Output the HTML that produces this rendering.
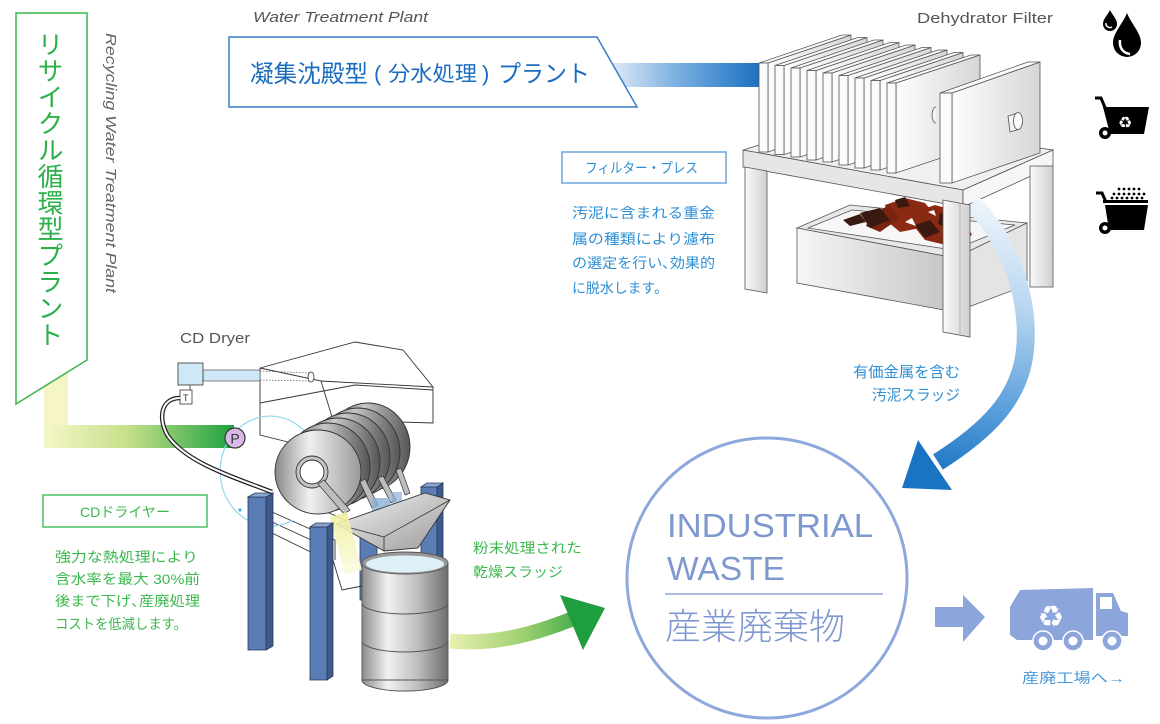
<!DOCTYPE html>
<html><head><meta charset="utf-8"><style>
html,body{margin:0;padding:0;background:#fff;}
body{width:1160px;height:724px;overflow:hidden;position:relative;font-family:"Liberation Sans","Noto Sans CJK JP",sans-serif;}
svg{position:absolute;left:0;top:0;}
.vt{position:absolute;left:36px;top:31px;writing-mode:vertical-rl;text-orientation:upright;font-size:26px;color:#2bb04a;letter-spacing:0.4px;line-height:28px;font-family:"Noto Sans CJK JP",sans-serif;}
</style></head><body>
<svg width="1160" height="724" viewBox="0 0 1160 724" font-family="Liberation Sans, Noto Sans CJK JP, sans-serif">
<defs>
<linearGradient id="gPipeH" x1="44" y1="0" x2="232" y2="0" gradientUnits="userSpaceOnUse"><stop offset="0" stop-color="#f6f6c8"/><stop offset="0.45" stop-color="#c5e08a"/><stop offset="1" stop-color="#1fa33f"/></linearGradient>
<linearGradient id="gBlueBar" x1="613" y1="0" x2="760" y2="0" gradientUnits="userSpaceOnUse"><stop offset="0" stop-color="#dbe9f6"/><stop offset="0.45" stop-color="#78aee0"/><stop offset="1" stop-color="#1a70c0"/></linearGradient>
<linearGradient id="gBlueArrow" x1="990" y1="200" x2="930" y2="475" gradientUnits="userSpaceOnUse"><stop offset="0" stop-color="#f0f6fc"/><stop offset="0.35" stop-color="#b8d6f0"/><stop offset="0.7" stop-color="#5ea2dc"/><stop offset="1" stop-color="#1a74c4"/></linearGradient>
<linearGradient id="gGreenArrow" x1="450" y1="0" x2="600" y2="0" gradientUnits="userSpaceOnUse"><stop offset="0" stop-color="#e9f0b0"/><stop offset="0.5" stop-color="#9ccf6e"/><stop offset="1" stop-color="#1e9e3e"/></linearGradient>
<linearGradient id="gPlate" x1="0" y1="0" x2="1" y2="0"><stop offset="0" stop-color="#fdfdfd"/><stop offset="1" stop-color="#d6d6d6"/></linearGradient>
<linearGradient id="gLeg" x1="0" y1="0" x2="1" y2="0"><stop offset="0" stop-color="#fafafa"/><stop offset="1" stop-color="#cfcfcf"/></linearGradient>
<linearGradient id="gBox" x1="0" y1="0" x2="1" y2="0"><stop offset="0" stop-color="#f6f6f6"/><stop offset="1" stop-color="#c4c4c4"/></linearGradient>
<linearGradient id="gDisc" x1="0" y1="0" x2="1" y2="0"><stop offset="0" stop-color="#8a8a8a"/><stop offset="0.4" stop-color="#f0f0f0"/><stop offset="1" stop-color="#9a9a9a"/></linearGradient>
<linearGradient id="gDiscB" x1="0" y1="0" x2="1" y2="0"><stop offset="0" stop-color="#444"/><stop offset="0.45" stop-color="#c8c8c8"/><stop offset="1" stop-color="#555"/></linearGradient>
<linearGradient id="gDrum" x1="0" y1="0" x2="1" y2="0"><stop offset="0" stop-color="#8c8c8c"/><stop offset="0.3" stop-color="#f2f2f2"/><stop offset="0.65" stop-color="#bdbdbd"/><stop offset="1" stop-color="#6e6e6e"/></linearGradient>
<linearGradient id="gTrough" x1="0" y1="0" x2="1" y2="1"><stop offset="0" stop-color="#f4f4f4"/><stop offset="1" stop-color="#9a9a9a"/></linearGradient>
<linearGradient id="gBeam" x1="0" y1="0" x2="0" y2="1"><stop offset="0" stop-color="#efef9c"/><stop offset="1" stop-color="#fbfbe4"/></linearGradient>
</defs>

<!-- green L pipe -->
<rect x="44" y="368" width="24" height="80" fill="#f5f5c8"/>
<rect x="44" y="425" width="190" height="23" fill="url(#gPipeH)"/>

<!-- green banner -->
<polygon points="16,13 87,13 87,360 16,404" fill="#fff" stroke="#3cb44b" stroke-width="1.5"/>
<text transform="translate(106,33) rotate(90)" font-size="15" font-style="italic" fill="#666" textLength="260" lengthAdjust="spacingAndGlyphs">Recycling Water Treatment Plant</text>

<!-- water treatment banner -->
<text x="253" y="22" font-size="15" font-style="italic" fill="#555" textLength="175" lengthAdjust="spacingAndGlyphs">Water Treatment Plant</text>
<rect x="613" y="63" width="150" height="24" fill="url(#gBlueBar)"/>
<polygon points="229,37 597,37 637,107 229,107" fill="#fff" stroke="#3a7cc8" stroke-width="1.5"/>
<g fill="#1b6cc0">
<text x="250" y="82" font-size="24" textLength="118" lengthAdjust="spacingAndGlyphs">凝集沈殿型</text>
<text x="374" y="81" font-size="22">(</text>
<text x="388" y="81" font-size="21" textLength="89" lengthAdjust="spacingAndGlyphs">分水処理</text>
<text x="482" y="81" font-size="22">)</text>
<text x="498" y="82" font-size="24" textLength="92" lengthAdjust="spacingAndGlyphs">プラント</text>
</g>

<!-- Dehydrator Filter -->
<text x="917" y="23" font-size="15" fill="#555" textLength="136" lengthAdjust="spacingAndGlyphs">Dehydrator Filter</text>

<!-- table top -->
<polygon points="743,150 840,120 1053,150 963,190" fill="#f0f0f0" stroke="#555" stroke-width="0.8"/>
<!-- plates -->
<g stroke="#555" stroke-width="0.8">
<g id="plates">
<polygon points="768,63 851,35 851,124 768,152" fill="url(#gPlate)"/><polygon points="759,63 842,35 851,35 768,63" fill="#fafafa"/><rect x="759" y="63" width="9" height="89" fill="#fbfbfb"/>
<polygon points="784,65.5 867,37.5 867,127 784,154.6" fill="url(#gPlate)"/><polygon points="775,65.5 858,37.5 867,37.5 784,65.5" fill="#fafafa"/><rect x="775" y="65.5" width="9" height="89" fill="#fbfbfb"/>
<polygon points="800,68 883,40 883,129 800,157" fill="url(#gPlate)"/><polygon points="791,68 874,40 883,40 800,68" fill="#fafafa"/><rect x="791" y="68" width="9" height="89" fill="#fbfbfb"/>
<polygon points="816,70.5 899,42.5 899,132 816,160" fill="url(#gPlate)"/><polygon points="807,70.5 890,42.5 899,42.5 816,70.5" fill="#fafafa"/><rect x="807" y="70.5" width="9" height="89.5" fill="#fbfbfb"/>
<polygon points="832,73 915,45 915,134 832,162" fill="url(#gPlate)"/><polygon points="823,73 906,45 915,45 832,73" fill="#fafafa"/><rect x="823" y="73" width="9" height="89" fill="#fbfbfb"/>
<polygon points="848,75.5 931,47.5 931,137 848,165" fill="url(#gPlate)"/><polygon points="839,75.5 922,47.5 931,47.5 848,75.5" fill="#fafafa"/><rect x="839" y="75.5" width="9" height="89.5" fill="#fbfbfb"/>
<polygon points="864,78 947,50 947,140 864,168" fill="url(#gPlate)"/><polygon points="855,78 938,50 947,50 864,78" fill="#fafafa"/><rect x="855" y="78" width="9" height="90" fill="#fbfbfb"/>
<polygon points="880,80.5 963,52.5 963,142 880,170" fill="url(#gPlate)"/><polygon points="871,80.5 954,52.5 963,52.5 880,80.5" fill="#fafafa"/><rect x="871" y="80.5" width="9" height="89.5" fill="#fbfbfb"/>
<polygon points="896,83 980,55 980,145 896,173" fill="url(#gPlate)"/><polygon points="887,83 971,55 980,55 896,83" fill="#fafafa"/><rect x="887" y="83" width="9" height="90" fill="#fbfbfb"/>
</g>
<path d="M936,107 a4,8 0 0 0 0,16" fill="#f4f4f4"/>
<!-- end plate -->
<polygon points="952,93 1040,62 1040,153 952,183" fill="url(#gPlate)"/>
<polygon points="940,93 1028,62 1040,62 952,93" fill="#fafafa"/>
<rect x="940" y="93" width="12" height="90" fill="#fbfbfb"/>
<path d="M1008,116 L1018,113 L1020,129 L1010,132 Z" fill="#f2f2f2"/>
<ellipse cx="1018" cy="121" rx="4.5" ry="8.5" fill="#fafafa"/>
<!-- slab faces -->
<polygon points="743,150 963,190 963,207 743,167" fill="#e6e6e6"/>
<polygon points="963,190 1053,150 1053,166 963,207" fill="#f6f6f6"/>
<!-- legs -->
<polygon points="745,167 767,171 767,293 745,289" fill="url(#gLeg)"/>
<rect x="1030" y="166" width="23" height="121" fill="url(#gLeg)"/>
<!-- sludge box -->
<polygon points="797,228 850,205 1027,223 955,258" fill="#e8e8e8"/>
<polygon points="808,228 852,210 1015,225 953,250" fill="#f7f7f7"/>
<polygon points="797,228 955,258 955,312 797,283" fill="url(#gBox)"/>
<polygon points="955,258 1027,223 1027,285 955,312" fill="#e4e4e4"/>
</g>
<!-- sludge -->
<g stroke="none">
<polygon points="885,205 905,198 925,203 935,215 920,228 900,232 888,222" fill="#8b2a12"/>
<polygon points="905,215 935,205 960,212 972,235 950,246 925,240" fill="#8b2a12"/>
<polygon points="870,215 890,205 900,218 880,232 866,226" fill="#7a2410"/>
<polygon points="860,213 880,208 890,220 870,228" fill="#3a1a10"/>
<polygon points="843,220 860,214 866,222 850,226" fill="#3a1a10"/>
<polygon points="915,225 930,220 940,232 925,238" fill="#3a1a10"/>
<polygon points="940,213 956,219 950,229 938,224" fill="#3a1a10"/>
<polygon points="895,200 905,197 910,206 898,208" fill="#3a1a10"/>
<polygon points="905,222 912,218 916,226" fill="#fff"/>
<polygon points="928,212 934,210 936,216" fill="#fff"/>
<polygon points="948,232 955,230 956,238" fill="#fff"/>
</g>
<!-- blue curved arrow -->
<path d="M972,203 C1010,240 1030,300 1025,350 C1020,400 985,432 938,462" fill="none" stroke="url(#gBlueArrow)" stroke-width="18"/>
<polygon points="918,440 952,490 902,488" fill="#1a74c4"/>
<!-- front right leg -->
<polygon points="943,200 970,205 970,337 943,332" fill="url(#gLeg)" stroke="#555" stroke-width="0.8"/>
<line x1="960" y1="203" x2="960" y2="335" stroke="#aaa" stroke-width="0.8"/>

<!-- filter press texts -->
<rect x="562" y="152" width="164" height="31" fill="#fff" stroke="#6aa6dc" stroke-width="1.5"/>
<g fill="#2d8fd5" font-size="14">
<text x="585" y="173" textLength="113" lengthAdjust="spacingAndGlyphs">フィルター・プレス</text>
<text x="572" y="218" textLength="143" lengthAdjust="spacingAndGlyphs">汚泥に含まれる重金</text>
<text x="572" y="244" textLength="143" lengthAdjust="spacingAndGlyphs">属の種類により濾布</text>
<text x="572" y="268" textLength="143" lengthAdjust="spacingAndGlyphs">の選定を行い､効果的</text>
<text x="572" y="293" textLength="96" lengthAdjust="spacingAndGlyphs">に脱水します。</text>
<text x="853" y="377" font-size="15" textLength="107" lengthAdjust="spacingAndGlyphs">有価金属を含む</text>
<text x="872" y="400" font-size="15" textLength="88" lengthAdjust="spacingAndGlyphs">汚泥スラッジ</text>
</g>

<!-- icons -->
<path d="M1110,10 C1107,16 1103,19 1103,24 A7,7 0 0 0 1117,24 C1117,19 1113,16 1110,10 Z" fill="#000"/>
<path d="M1106,23 a4,4 0 0 0 6,4" fill="none" stroke="#fff" stroke-width="1.5"/>
<path d="M1127,13 C1122,25 1113,33 1113,43 A14,14 0 0 0 1141,43 C1141,33 1132,25 1127,13 Z" fill="#000"/>
<path d="M1120,40 C1119,48 1123,53 1130,54" fill="none" stroke="#fff" stroke-width="2.5"/>
<polyline points="1095,98 1101,98 1106,110" fill="none" stroke="#000" stroke-width="3"/>
<polygon points="1103,107 1149,107 1144,134 1110,134" fill="#000"/>
<circle cx="1105" cy="133" r="6" fill="#000"/><circle cx="1105" cy="133" r="2.5" fill="#fff"/>
<text x="1125" y="128" font-size="16" fill="#fff" text-anchor="middle" font-family="DejaVu Sans, sans-serif">♻</text>
<polyline points="1096,193 1102,193 1106,202" fill="none" stroke="#000" stroke-width="3"/>
<rect x="1103" y="200" width="45" height="3" fill="#000"/>
<polygon points="1105,205 1148,205 1144,230 1109,230" fill="#000"/>
<circle cx="1105" cy="228" r="6" fill="#000"/><circle cx="1105" cy="228" r="2.5" fill="#fff"/>
<g fill="#000">
<circle cx="1119" cy="189" r="1.4"/><circle cx="1124" cy="189" r="1.4"/><circle cx="1129" cy="189" r="1.4"/><circle cx="1134" cy="189" r="1.4"/><circle cx="1139" cy="189" r="1.4"/>
<circle cx="1114" cy="194" r="1.4"/><circle cx="1119" cy="194" r="1.4"/><circle cx="1124" cy="194" r="1.4"/><circle cx="1129" cy="194" r="1.4"/><circle cx="1134" cy="194" r="1.4"/><circle cx="1139" cy="194" r="1.4"/><circle cx="1144" cy="194" r="1.4"/>
<circle cx="1112" cy="198" r="1.4"/><circle cx="1117" cy="198" r="1.4"/><circle cx="1122" cy="198" r="1.4"/><circle cx="1127" cy="198" r="1.4"/><circle cx="1132" cy="198" r="1.4"/><circle cx="1137" cy="198" r="1.4"/><circle cx="1142" cy="198" r="1.4"/>
</g>

<!-- CD dryer -->
<text x="180" y="343" font-size="15" fill="#555" textLength="70" lengthAdjust="spacingAndGlyphs">CD Dryer</text>
<!-- back columns -->
<g stroke="#2a3a5a" stroke-width="0.8">
<polygon points="421,487 437,487 437,592 421,592" fill="#5b7db5"/>
<polygon points="437,487 443,483 443,588 437,592" fill="#3e5a8c"/>
<polygon points="421,487 427,483 443,483 437,487" fill="#8aa5d0"/>
<rect x="360" y="530" width="17" height="70" fill="#5b7db5"/>
</g>
<!-- lower housing -->
<g fill="none" stroke="#333" stroke-width="0.9">
<path d="M272,512 L335,540 L335,560"/>
<path d="M272,522 L333,550"/>
<path d="M272,533 L333,563"/>
<path d="M333,560 L342,590 L362,586"/>
<path d="M300,500 L345,520"/>
</g>
<!-- hood -->
<polygon points="260,368 355,342 403,350 433,387 433,423 300,445 260,435" fill="#fff" stroke="none"/>
<g fill="none" stroke="#333" stroke-width="0.9">
<path d="M260,368 L355,342 L403,350 L433,387 L433,423 L333,420 L321,381 Z"/>
<path d="M321,381 L433,387"/>
<path d="M260,368 L260,435 L300,445"/>
<path d="M260,403 L355,385 L433,390"/>
</g>
<rect x="203" y="370" width="57" height="11" fill="#cfe8f7" stroke="#555" stroke-width="0.7"/>
<path d="M260,371 L310,373 M260,380 L310,381" stroke="#555" stroke-width="0.7" stroke-dasharray="1.5,1.5"/>
<ellipse cx="311" cy="377" rx="3" ry="5" fill="#fff" stroke="#333" stroke-width="0.8"/>
<rect x="178" y="363" width="25" height="22" fill="#cfe8f7" stroke="#333" stroke-width="0.8"/>
<line x1="190" y1="385" x2="190" y2="390" stroke="#333" stroke-width="0.8"/>
<rect x="180" y="390" width="12" height="14" fill="#fff" stroke="#333" stroke-width="0.8"/>
<text x="183" y="401" font-size="9" fill="#333">T</text>
<!-- cyan arc -->
<path d="M312,441 A50,55 0 1 0 293,520" fill="none" stroke="#8fd8f0" stroke-width="1.2"/>
<circle cx="312" cy="441" r="1.6" fill="#3ab8e8"/><circle cx="240" cy="510" r="1.6" fill="#3ab8e8"/>
<!-- discs -->
<g stroke="#333" stroke-width="0.9">
<ellipse cx="368" cy="447" rx="42" ry="44" fill="url(#gDiscB)"/>
<ellipse cx="358" cy="452" rx="42" ry="44" fill="url(#gDiscB)"/>
<ellipse cx="348" cy="457" rx="42" ry="44" fill="url(#gDiscB)"/>
<ellipse cx="338" cy="462" rx="42" ry="44" fill="url(#gDiscB)"/>
<ellipse cx="328" cy="467" rx="42" ry="44" fill="url(#gDiscB)"/>
<ellipse cx="318" cy="472" rx="43" ry="42" fill="url(#gDisc)"/>
<circle cx="312" cy="472" r="16" fill="#c4c4c4"/>
<circle cx="312" cy="472" r="12" fill="#fff"/>
</g>
<g stroke="#333" stroke-width="0.7" fill="#bdbdbd">
<polygon points="318,484 324,480 350,510 344,514"/>
<polygon points="360,482 365,479 378,505 372,508"/>
<polygon points="378,478 383,476 396,500 391,503"/>
<polygon points="396,470 401,468 410,493 405,495"/>
</g>
<g fill="#8ab0d8"><rect x="372" y="498" width="18" height="14" opacity="0.8"/><rect x="392" y="492" width="10" height="12" opacity="0.7"/></g>
<!-- trough -->
<polygon points="336,524 425,493 450,500 418,548 384,551" fill="url(#gTrough)" stroke="#333" stroke-width="0.9"/>
<path d="M336,524 L384,537 L450,500 M384,537 L384,551" fill="none" stroke="#333" stroke-width="0.8"/>
<!-- beam -->
<polygon points="330,517 347,512 362,570 345,575" fill="url(#gBeam)" opacity="0.9"/>
<!-- drum -->
<rect x="362" y="563" width="86" height="117" fill="url(#gDrum)"/>
<path d="M362,563 L362,680 A43,11 0 0 0 448,680 L448,563" fill="none" stroke="#555" stroke-width="0.9"/>
<ellipse cx="405" cy="680" rx="43" ry="11" fill="#9a9a9a" opacity="0.0"/>
<path d="M362,680 A43,11 0 0 0 448,680 Z" fill="url(#gDrum)" stroke="#555" stroke-width="0.9"/>
<path d="M362,603 A43,11 0 0 0 448,603 M362,641 A43,11 0 0 0 448,641" fill="none" stroke="#555" stroke-width="1"/>
<ellipse cx="405" cy="563" rx="43" ry="11" fill="#999" stroke="#555" stroke-width="0.9"/>
<ellipse cx="405" cy="564" rx="39" ry="8.5" fill="#dff0f8"/>
<!-- front columns -->
<g stroke="#2a3a5a" stroke-width="0.8">
<rect x="248" y="497" width="18" height="153" fill="#5b7db5"/>
<polygon points="266,497 273,493 273,646 266,650" fill="#3e5a8c"/>
<polygon points="248,497 255,493 273,493 266,497" fill="#8aa5d0"/>
<rect x="310" y="527" width="17" height="153" fill="#5b7db5"/>
<polygon points="327,527 333,523 333,676 327,680" fill="#3e5a8c"/>
<polygon points="310,527 316,523 333,523 327,527" fill="#8aa5d0"/>
</g>
<!-- hose -->
<path d="M180,398 C160,398 158,420 168,436 C186,462 230,476 272,492" fill="none" stroke="#222" stroke-width="4.5"/>
<path d="M180,398 C160,398 158,420 168,436 C186,462 230,476 272,492" fill="none" stroke="#fff" stroke-width="2"/>
<!-- pump -->
<circle cx="235" cy="438" r="10" fill="#d9b9e6" stroke="#333" stroke-width="1.2"/>
<text x="235" y="443.5" font-size="14" fill="#333" text-anchor="middle">P</text>

<!-- CD texts -->
<rect x="43" y="495" width="164" height="32" fill="#fff" stroke="#4cc060" stroke-width="1.5"/>
<g fill="#3cb84e" font-size="14">
<text x="80" y="517" textLength="90" lengthAdjust="spacingAndGlyphs">CDドライヤー</text>
<text x="55" y="562" textLength="143" lengthAdjust="spacingAndGlyphs">強力な熱処理により</text>
<text x="55" y="584" textLength="145" lengthAdjust="spacingAndGlyphs">含水率を最大 30%前</text>
<text x="55" y="606" textLength="145" lengthAdjust="spacingAndGlyphs">後まで下げ､産廃処理</text>
<text x="55" y="629" textLength="132" lengthAdjust="spacingAndGlyphs">コストを低減します。</text>
<text x="473" y="553" textLength="109" lengthAdjust="spacingAndGlyphs">粉末処理された</text>
<text x="473" y="577" textLength="90" lengthAdjust="spacingAndGlyphs">乾燥スラッジ</text>
</g>

<!-- green arrow -->
<path d="M450,641 C490,645 530,636 572,619" fill="none" stroke="url(#gGreenArrow)" stroke-width="15"/>
<polygon points="560,595 605,608 583,650" fill="#1e9e3e"/>

<!-- circle -->
<circle cx="767" cy="578" r="140" fill="#fff" stroke="#8ea8dc" stroke-width="3"/>
<g fill="#7f98cf">
<text x="667" y="537" font-size="33" textLength="206" lengthAdjust="spacingAndGlyphs">INDUSTRIAL</text>
<text x="667" y="580" font-size="33" textLength="118" lengthAdjust="spacingAndGlyphs">WASTE</text>
<text x="665" y="639" font-size="36" font-weight="300" textLength="180" lengthAdjust="spacingAndGlyphs" font-family="Noto Sans CJK JP, sans-serif">産業廃棄物</text>
</g>
<line x1="665" y1="594" x2="883" y2="594" stroke="#8ea8dc" stroke-width="1.5"/>

<!-- truck -->
<polygon points="935,607 963,607 963,595 985,617 963,642 963,627 935,627" fill="#8ca5db"/>
<g fill="#8ca5db">
<path d="M1020,590 L1093,588 L1093,640 L1017,640 L1010,635 L1010,607 Z"/>
<path d="M1096,593 L1113,593 L1121,611 L1128,613 L1128,636 L1096,636 Z"/>
</g>
<rect x="1100" y="597" width="12" height="12" fill="#fff"/>
<text x="1051" y="627" font-size="30" fill="#fff" text-anchor="middle" font-family="DejaVu Sans, sans-serif">♻</text>
<g>
<circle cx="1043" cy="641" r="10" fill="#8ca5db" stroke="#fff" stroke-width="1.5"/><circle cx="1043" cy="641" r="4.5" fill="#fff"/>
<circle cx="1073" cy="641" r="10" fill="#8ca5db" stroke="#fff" stroke-width="1.5"/><circle cx="1073" cy="641" r="4.5" fill="#fff"/>
<circle cx="1112" cy="641" r="10" fill="#8ca5db" stroke="#fff" stroke-width="1.5"/><circle cx="1112" cy="641" r="4.5" fill="#fff"/>
</g>
<text x="1022" y="683" font-size="14" fill="#4a98d8" textLength="103" lengthAdjust="spacingAndGlyphs">産廃工場へ→</text>
</svg>
<div class="vt">リサイクル循環型プラント</div>
</body></html>
